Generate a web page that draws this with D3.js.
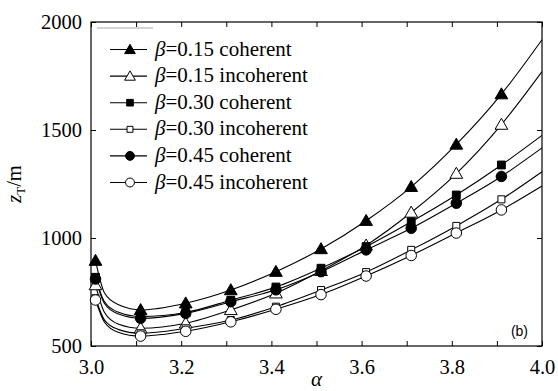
<!DOCTYPE html>
<html>
<head>
<meta charset="utf-8">
<script src="https://cdn.jsdelivr.net/npm/d3@7"></script>
<style>
  body { margin: 0; background: #fff; }
  svg { display: block; }
</style>
</head>
<body>
<div id="chart"></div>
<script>
let w = 558
let h = 391
let serif = "Liberation Serif"
let sans = "Liberation Sans"

// alpha positions of the curve points; markers sit at 3.01, 3.11, ... 3.91
let alphaLine = [3.01, 3.03, 3.06, 3.11, 3.21, 3.31, 3.41, 3.51, 3.61, 3.71, 3.81, 3.91, 4.0]
let alphaMarks = [3.01, 3.11, 3.21, 3.31, 3.41, 3.51, 3.61, 3.71, 3.81, 3.91]

// z_T (m)
let b15Coherent   = [895, 745, 692, 667, 698, 759, 844, 949, 1080, 1237, 1433, 1666, 1918]
let b15Incoherent = [782, 655, 602, 582, 605, 667, 744, 848, 966, 1118, 1298, 1525, 1770]
let b30Coherent   = [818, 705, 657, 636, 655, 712, 773, 860, 960, 1075, 1199, 1338, 1475]
let b30Incoherent = [721, 620, 577, 559, 582, 620, 682, 759, 842, 945, 1056, 1179, 1307]
let b45Coherent   = [810, 697, 649, 628, 651, 705, 760, 844, 945, 1045, 1161, 1285, 1417]
let b45Incoherent = [713, 610, 564, 546, 568, 612, 670, 738, 824, 919, 1023, 1130, 1241]

let seriesNames = ["0.15 coherent", "0.15 incoherent", "0.30 coherent", "0.30 incoherent", "0.45 coherent", "0.45 incoherent"]
let seriesValues = [b15Coherent, b15Incoherent, b30Coherent, b30Incoherent, b45Coherent, b45Incoherent]
let seriesShapes = ["triangle", "triangle", "square", "square", "circle", "circle"]
let seriesFilled = [true, false, true, false, true, false]

let xTicks = [3.0, 3.1, 3.2, 3.3, 3.4, 3.5, 3.6, 3.7, 3.8, 3.9, 4.0]
let xTickLabels = ["3.0", "", "3.2", "", "3.4", "", "3.6", "", "3.8", "", "4.0"]
let yTicks = [500, 1000, 1500, 2000]
let yTickLabels = ["500", "1000", "1500", "2000"]

let mLeft = 91, mRight = 542, mTop = 22, mBottom = 346

let svg = d3.select("#chart")
  .append("svg")
  .attr("width", w)
  .attr("height", h)
  .attr("font-family", serif)

let x = d3.scaleLinear().domain([3.0, 4.0]).range([mLeft, mRight])
let y = d3.scaleLinear().domain([500, 2000]).range([mBottom, mTop])

// Axes, ticks point inward
let xAxis = d3.axisBottom(x)
  .tickValues(xTicks)
  .tickSizeInner(-5)
  .tickSizeOuter(0)
  .tickPadding(13)
  .tickFormat((d, i) => xTickLabels[i])

svg.append("g")
  .attr("transform", "translate(0," + mBottom + ")")
  .call(xAxis)

svg.append("g")
  .attr("transform", "translate(0," + mTop + ")")
  .call(d3.axisTop(x).tickValues(xTicks).tickSizeInner(-5).tickSizeOuter(0).tickFormat(""))

svg.append("g")
  .attr("transform", "translate(" + mLeft + ",0)")
  .call(d3.axisLeft(y).tickValues(yTicks).tickSizeInner(-5).tickSizeOuter(0).tickPadding(9)
    .tickFormat((d, i) => yTickLabels[i]))

svg.append("g")
  .attr("transform", "translate(" + mRight + ",0)")
  .call(d3.axisRight(y).tickValues(yTicks).tickSizeInner(-5).tickSizeOuter(0).tickFormat(""))

svg.selectAll(".domain").remove()
svg.selectAll("g").attr("font-family", serif)
svg.selectAll(".tick line").attr("stroke", "#000").attr("stroke-width", 1)
svg.selectAll(".tick text")
  .attr("font-family", serif)
  .attr("font-size", 20.5)
  .attr("fill", "#000")

// frame
svg.append("rect")
  .attr("x", mLeft)
  .attr("y", mTop)
  .attr("width", mRight - mLeft)
  .attr("height", mBottom - mTop)
  .attr("fill", "none")
  .attr("stroke", "#000")
  .attr("stroke-width", 1.2)

// leftover legend box edge
svg.append("line")
  .attr("x1", 97).attr("x2", 153)
  .attr("y1", 28).attr("y2", 28)
  .attr("stroke", "#aaa")
  .attr("stroke-width", 1)

let line = d3.line()
  .x((d, i) => x(alphaLine[i]))
  .y(d => y(d))
  .curve(d3.curveMonotoneX)

let symbolSize = { triangle: 50, square: 44, circle: 62 }
let symbolType = { triangle: d3.symbolTriangle, square: d3.symbolSquare, circle: d3.symbolCircle }

let drawMarker = function(g, shape, filled, cx, cy, scale) {
  let size = symbolSize[shape] * scale
  if (!filled && shape == "square") size = size * 0.8
  g.append("path")
    .attr("d", d3.symbol().type(symbolType[shape]).size(size)())
    .attr("transform", "translate(" + cx + "," + (cy + (shape == "triangle" ? 1 : 0)) + ")")
    .attr("fill", filled ? "#000" : "#fff")
    .attr("stroke", "#000")
    .attr("stroke-width", 1)
}

let plot = svg.append("g")

seriesValues.forEach(vals => {
  plot.append("path")
    .datum(vals)
    .attr("d", line)
    .attr("fill", "none")
    .attr("stroke", "#000")
    .attr("stroke-width", 1.1)
})

seriesValues.forEach((vals, s) => {
  vals.forEach((v, i) => {
    if (alphaMarks.indexOf(alphaLine[i]) < 0) return
    drawMarker(plot, seriesShapes[s], seriesFilled[s], x(alphaLine[i]), y(v), 1.4)
  })
})

// Legend
let legend = svg.append("g")
seriesNames.forEach((name, i) => {
  let ly = 49.5 + i * 26.6
  legend.append("line")
    .attr("x1", 110).attr("x2", 147)
    .attr("y1", ly).attr("y2", ly)
    .attr("stroke", "#000")
    .attr("stroke-width", 1.1)
  drawMarker(legend, seriesShapes[i], seriesFilled[i], 130, ly, 1.0)
  let t = legend.append("text")
    .attr("x", 155)
    .attr("y", ly + 6)
    .attr("font-family", serif)
    .attr("font-size", 21)
  t.append("tspan").attr("font-style", "italic").text("β")
  t.append("tspan").text("=" + name)
})

// Axis titles
svg.append("text")
  .attr("x", (mLeft + mRight) / 2)
  .attr("y", 386)
  .attr("text-anchor", "middle")
  .attr("font-family", serif)
  .attr("font-size", 21)
  .attr("font-style", "italic")
  .text("α")

let yt = svg.append("text")
  .attr("transform", "translate(21," + ((mTop + mBottom) / 2) + ") rotate(-90)")
  .attr("text-anchor", "middle")
  .attr("font-family", serif)
  .attr("font-size", 20.5)
yt.append("tspan").attr("font-style", "italic").text("z")
yt.append("tspan").attr("font-size", 13).attr("dy", 4).text("T")
yt.append("tspan").attr("dy", -4).text("/m")

svg.append("text")
  .attr("x", 528)
  .attr("y", 336)
  .attr("text-anchor", "end")
  .attr("font-family", sans)
  .attr("font-size", 14)
  .text("(b)")
</script>
</body>
</html>
